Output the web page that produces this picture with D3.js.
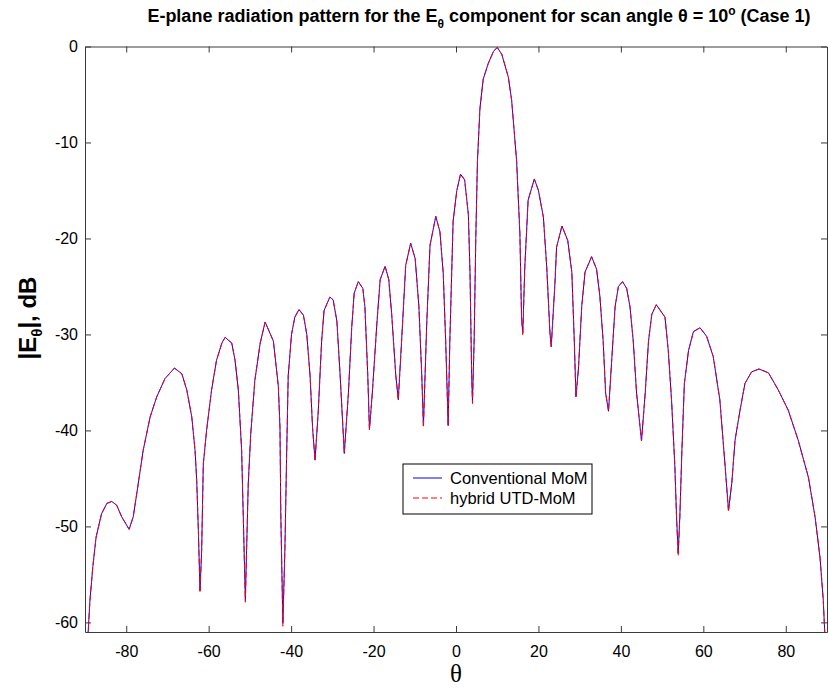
<!DOCTYPE html>
<html>
<head>
<meta charset="utf-8">
<script src="https://cdn.jsdelivr.net/npm/d3@7"></script>
<style>
	body { margin: 0; background: #fff; }
	svg { display: block; }
</style>
</head>
<body>
<svg id="chart" width="829" height="690"></svg>
<script>
// Observation angle theta (degrees)
var theta = [
	-89.3, -88.8, -88.1, -87.3, -86.0, -84.7, -83.5, -82.3, -81.1, -79.3,
	-78.3, -77.1, -75.9, -74.2, -72.6, -70.6, -68.3, -66.5, -65.3, -64.1,
	-63.3, -62.9, -62.5, -62.1, -61.7, -61.3, -60.5, -59.3, -58.1, -56.8,
	-56.0, -54.4, -53.6, -52.8, -52.0, -51.6, -51.1, -50.8, -50.4, -49.8,
	-48.8, -47.5, -46.3, -44.3, -43.1, -42.7, -42.5, -42.0, -41.5, -41.1,
	-40.7, -39.9, -39.1, -38.1, -37.0, -36.2, -35.4, -34.8, -34.2, -33.4,
	-32.6, -32.0, -30.6, -29.8, -28.9, -28.1, -27.1, -26.1, -25.3, -24.7,
	-23.7, -22.6, -22.1, -21.4, -21.0, -20.3, -19.2, -18.4, -17.2, -16.3,
	-15.6, -14.6, -14.0, -13.2, -12.2, -11.0, -9.9, -9.0, -8.3, -7.9,
	-7.1, -6.3, -4.9, -3.9, -3.1, -2.5, -1.9, -1.5, -0.7, 0.2,
	1.1, 2.1, 3.0, 3.4, 3.8, 4.0, 4.4, 4.8, 5.2, 5.8,
	6.6, 7.8, 9.1, 10.0, 11.1, 12.7, 13.5, 14.7, 15.5, 15.9,
	16.2, 16.7, 17.5, 19.0, 20.0, 21.2, 22.0, 22.8, 23.1, 24.0,
	24.4, 25.7, 27.1, 28.1, 28.7, 29.1, 29.7, 30.5, 31.3, 32.9,
	34.1, 34.9, 35.7, 36.3, 37.0, 37.8, 38.6, 39.4, 40.4, 41.4,
	42.2, 43.0, 43.8, 45.0, 45.9, 46.7, 47.5, 48.6, 50.7, 51.5,
	52.3, 53.1, 53.5, 53.9, 54.3, 54.8, 55.4, 56.4, 57.6, 59.2,
	60.8, 62.4, 64.0, 65.3, 66.1, 66.9, 67.7, 68.9, 70.1, 71.7,
	73.5, 75.8, 78.2, 80.6, 83.0, 85.5, 87.1, 88.3, 89.1, 89.5
];

// |E_theta| (dB), conventional MoM
var momDb = [
	-61.5, -57.7, -54.2, -51.1, -48.7, -47.6, -47.4, -47.8, -49.0, -50.3,
	-49.0, -45.6, -42.1, -38.6, -36.5, -34.6, -33.5, -34.1, -35.8, -38.6,
	-42.1, -45.2, -50.4, -56.7, -52.5, -43.5, -40.0, -35.8, -32.7, -30.9,
	-30.3, -30.9, -32.7, -35.8, -42.1, -49.0, -57.7, -52.5, -45.6, -40.4,
	-34.8, -30.9, -28.7, -30.7, -35.4, -39.7, -48.7, -60.1, -52.3, -42.9,
	-34.3, -30.0, -28.2, -27.4, -28.0, -30.0, -34.3, -39.7, -43.1, -37.9,
	-30.7, -27.5, -26.1, -26.4, -28.6, -34.3, -42.4, -36.1, -29.3, -25.7,
	-24.5, -25.2, -27.1, -34.3, -39.9, -36.1, -28.9, -24.3, -22.9, -24.3,
	-27.9, -34.3, -36.8, -30.7, -22.8, -20.5, -22.1, -27.1, -34.3, -39.5,
	-28.9, -20.7, -17.7, -19.3, -23.6, -30.7, -39.5, -30.7, -18.2, -15.0,
	-13.3, -13.9, -17.5, -23.6, -34.3, -37.0, -30.7, -20.0, -12.0, -6.5,
	-3.4, -1.8, -0.5, -0.1, -0.8, -3.2, -5.6, -11.9, -19.5, -28.2,
	-29.9, -22.9, -16.0, -13.8, -15.0, -17.8, -22.9, -29.9, -31.3, -24.7,
	-20.9, -18.7, -20.2, -23.5, -30.7, -36.5, -33.6, -27.1, -23.5, -21.9,
	-23.2, -26.0, -30.7, -36.1, -38.0, -32.5, -27.1, -25.0, -24.5, -25.2,
	-27.1, -30.7, -36.1, -41.1, -36.1, -30.7, -27.9, -26.9, -28.2, -31.7,
	-36.9, -43.8, -49.0, -52.8, -49.0, -42.1, -35.1, -31.7, -29.7, -29.3,
	-30.2, -32.3, -36.8, -43.8, -48.3, -45.5, -41.0, -37.9, -35.1, -33.9,
	-33.6, -34.0, -35.8, -37.9, -41.0, -44.9, -49.0, -53.2, -57.7, -61.5
];

// |E_theta| (dB), hybrid UTD-MoM (nulls sit a touch deeper)
var hybridDb = [
	-61.5, -57.7, -54.2, -51.1, -48.7, -47.6, -47.4, -47.8, -49.0, -50.3,
	-49.0, -45.6, -42.1, -38.6, -36.5, -34.6, -33.5, -34.1, -35.8, -38.6,
	-42.1, -45.2, -50.4, -56.9, -52.5, -43.5, -40.0, -35.8, -32.7, -30.9,
	-30.3, -30.9, -32.7, -35.8, -42.1, -49.0, -57.9, -52.5, -45.6, -40.4,
	-34.8, -30.9, -28.7, -30.7, -35.4, -39.7, -48.7, -60.4, -52.3, -42.9,
	-34.3, -30.0, -28.2, -27.4, -28.0, -30.0, -34.3, -39.7, -43.1, -37.9,
	-30.7, -27.5, -26.1, -26.4, -28.6, -34.3, -42.4, -36.1, -29.3, -25.7,
	-24.5, -25.2, -27.1, -34.3, -39.9, -36.1, -28.9, -24.3, -22.9, -24.3,
	-27.9, -34.3, -36.8, -30.7, -22.8, -20.5, -22.1, -27.1, -34.3, -39.7,
	-28.9, -20.7, -17.7, -19.3, -23.6, -30.7, -39.5, -30.7, -18.2, -15.0,
	-13.3, -13.9, -17.5, -23.6, -34.3, -37.2, -30.7, -20.0, -12.0, -6.5,
	-3.4, -1.8, -0.5, -0.1, -0.8, -3.2, -5.6, -11.9, -19.5, -28.2,
	-30.1, -22.9, -16.0, -13.8, -15.0, -17.8, -22.9, -29.9, -31.3, -24.7,
	-20.9, -18.7, -20.2, -23.5, -30.7, -36.5, -33.6, -27.1, -23.5, -21.9,
	-23.2, -26.0, -30.7, -36.1, -38.0, -32.5, -27.1, -25.0, -24.5, -25.2,
	-27.1, -30.7, -36.1, -41.1, -36.1, -30.7, -27.9, -26.9, -28.2, -31.7,
	-36.9, -43.8, -49.0, -53.1, -49.0, -42.1, -35.1, -31.7, -29.7, -29.3,
	-30.2, -32.3, -36.8, -43.8, -48.5, -45.5, -41.0, -37.9, -35.1, -33.9,
	-33.6, -34.0, -35.8, -37.9, -41.0, -44.9, -49.0, -53.2, -57.7, -61.5
];

var xTicks = [-80, -60, -40, -20, 0, 20, 40, 60, 80];
var yTicks = [-60, -50, -40, -30, -20, -10, 0];
var seriesNames = ["Conventional MoM", "hybrid UTD-MoM"];

// Plot box (MATLAB-style axes, box on)
var box = {left: 85, right: 827, top: 46.5, bottom: 632};
var axisColor = "#3a3a3a";
var font = "Arial, 'Liberation Sans', Helvetica, sans-serif";

var svg = d3.select("#chart");

var x = d3.scaleLinear().domain([-90, 90]).range([box.left, box.right]);
var y = d3.scaleLinear().domain([-61, 0]).range([box.bottom, box.top]);

svg.append("defs").append("clipPath").attr("id", "plotclip")
	.append("rect")
	.attr("x", box.left).attr("y", box.top)
	.attr("width", box.right - box.left).attr("height", box.bottom - box.top);

// Axes: ticks point inward on all four sides
function styleAxis(g) {
	g.selectAll("path, line").attr("stroke", axisColor);
	g.selectAll("text")
		.attr("fill", "#000")
		.style("font-family", font)
		.style("font-size", "16px");
}

var plain = function(d) { return String(d); };
var none = function() { return ""; };

svg.append("g").attr("transform", "translate(0," + box.bottom + ")")
	.call(d3.axisBottom(x).tickValues(xTicks).tickFormat(plain)
		.tickSizeInner(-6).tickSizeOuter(0).tickPadding(14))
	.call(styleAxis);
svg.append("g").attr("transform", "translate(0," + box.top + ")")
	.call(d3.axisTop(x).tickValues(xTicks).tickFormat(none)
		.tickSizeInner(-6).tickSizeOuter(0))
	.call(styleAxis);
svg.append("g").attr("transform", "translate(" + box.left + ",0)")
	.call(d3.axisLeft(y).tickValues(yTicks).tickFormat(plain)
		.tickSizeInner(-6).tickSizeOuter(0).tickPadding(7))
	.call(styleAxis);
svg.append("g").attr("transform", "translate(" + box.right + ",0)")
	.call(d3.axisRight(y).tickValues(yTicks).tickFormat(none)
		.tickSizeInner(-6).tickSizeOuter(0))
	.call(styleAxis);

// Curves
var line = d3.line()
	.x(function(d) { return x(d[0]); })
	.y(function(d) { return y(d[1]); });

var plotArea = svg.append("g").attr("clip-path", "url(#plotclip)");

plotArea.append("path")
	.datum(d3.zip(theta, momDb))
	.attr("fill", "none")
	.attr("stroke", "#0000ff")
	.attr("stroke-width", 1)
	.attr("d", line);

plotArea.append("path")
	.datum(d3.zip(theta, hybridDb))
	.attr("fill", "none")
	.attr("stroke", "#ff0000")
	.attr("stroke-width", 1)
	.attr("stroke-dasharray", "6,3")
	.attr("d", line);

// Title with subscript / superscript
var title = svg.append("text")
	.attr("x", 479)
	.attr("y", 22)
	.attr("text-anchor", "middle")
	.style("font-family", font)
	.style("font-size", "18px")
	.style("font-weight", "bold");
title.append("tspan").text("E-plane radiation pattern for the E");
title.append("tspan").attr("dy", 6).style("font-size", "12px").text("θ");
title.append("tspan").attr("dy", -6).text(" component for scan angle θ = 10");
title.append("tspan").attr("dy", -7).style("font-size", "12px").text("o");
title.append("tspan").attr("dy", 7).text(" (Case 1)");

// Y label
var ylab = svg.append("text")
	.attr("transform", "translate(36,318) rotate(-90)")
	.attr("text-anchor", "middle")
	.style("font-family", font)
	.style("font-size", "24px")
	.style("font-weight", "bold");
ylab.append("tspan").text("|E");
ylab.append("tspan").attr("dy", 6).style("font-size", "15px").text("θ");
ylab.append("tspan").attr("dy", -6).text("|, dB");

// X label
svg.append("text")
	.attr("x", (box.left + box.right) / 2)
	.attr("y", 682)
	.attr("text-anchor", "middle")
	.style("font-family", "'Times New Roman', 'Liberation Serif', serif")
	.style("font-size", "25px")
	.text("θ");

// Legend
var legend = svg.append("g").attr("transform", "translate(403,464)");
legend.append("rect")
	.attr("width", 189).attr("height", 50)
	.attr("fill", "#fff").attr("stroke", "#000").attr("stroke-width", 1);

var legendStyles = [
	{color: "#0000ff", dash: null},
	{color: "#ff0000", dash: "6,3"}
];
seriesNames.forEach(function(name, i) {
	var ly = 14 + i * 20;
	legend.append("line")
		.attr("x1", 10).attr("x2", 39)
		.attr("y1", ly).attr("y2", ly)
		.attr("stroke", legendStyles[i].color)
		.attr("stroke-width", 1)
		.attr("stroke-dasharray", legendStyles[i].dash);
	legend.append("text")
		.attr("x", 47).attr("y", ly + 6)
		.style("font-family", font)
		.style("font-size", "16.5px")
		.text(name);
});
</script>
</body>
</html>
